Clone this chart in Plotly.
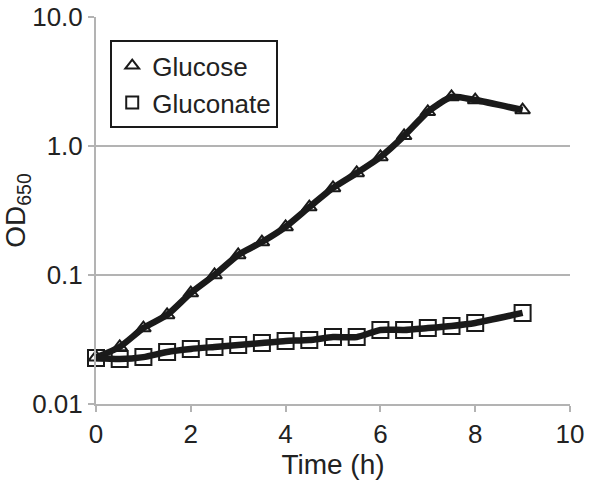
import plotly.graph_objects as go

time_glucose = [0, 0.5, 1, 1.5, 2, 2.5, 3, 3.5, 4, 4.5, 5, 5.5, 6, 6.5, 7, 7.5, 8, 9]
od_glucose = [0.023, 0.0277, 0.0388, 0.049, 0.0725, 0.100, 0.143, 0.180, 0.236, 0.336,
              0.473, 0.618, 0.822, 1.20, 1.84, 2.40, 2.27, 1.90]

time_gluconate = [0, 0.5, 1, 1.5, 2, 2.5, 3, 3.5, 4, 4.5, 5, 5.5, 6, 6.5, 7, 7.5, 8, 9]
od_gluconate = [0.0227, 0.0223, 0.0231, 0.0253, 0.0267, 0.0277, 0.0287, 0.0297, 0.0308, 0.0313,
                0.033, 0.033, 0.0375, 0.0375, 0.0388, 0.0403, 0.0425, 0.0508]

x_ticks = [0, 2, 4, 6, 8, 10]
y_tickvals = [0.01, 0.1, 1, 10]
y_ticktext = ["0.01", "0.1", "1.0", "10.0"]

font_family = "Liberation Sans, Arial, sans-serif"
ink = "#1a1a1a"
text_col = "#222222"
grey = "#b3b3b3"

fig = go.Figure()

fig.add_trace(go.Scatter(
    x=time_glucose, y=od_glucose, mode="markers", name="Glucose",
    marker=dict(symbol="triangle-up-open", size=13, color=ink, line=dict(width=2)),
    cliponaxis=False,
))
fig.add_trace(go.Scatter(
    x=time_gluconate, y=od_gluconate, mode="markers", name="Gluconate",
    marker=dict(symbol="square-open", size=16, color=ink, line=dict(width=2)),
    cliponaxis=False,
))
fig.add_trace(go.Scatter(
    x=time_glucose, y=od_glucose, mode="lines", showlegend=False,
    line=dict(color=ink, width=6.5, shape="spline", smoothing=0.6),
    cliponaxis=False,
))
fig.add_trace(go.Scatter(
    x=time_gluconate, y=od_gluconate, mode="lines", showlegend=False,
    line=dict(color=ink, width=6.5, shape="spline", smoothing=0.6),
    cliponaxis=False,
))

fig.update_layout(
    width=600, height=483,
    margin=dict(l=96, r=30, t=17, b=79),
    paper_bgcolor="white", plot_bgcolor="white",
    font=dict(family=font_family, size=26, color=text_col),
    showlegend=True,
    legend=dict(
        x=0.03, y=0.94, xanchor="left", yanchor="top",
        bgcolor="white", bordercolor=ink, borderwidth=2,
        font=dict(size=26, color=text_col),
        itemsizing="constant", tracegroupgap=0,
    ),
    xaxis=dict(
        range=[0, 10], tickvals=x_ticks, ticktext=[str(v) for v in x_ticks],
        showgrid=False, zeroline=False, automargin=False,
        showline=True, linecolor=grey, linewidth=2,
        ticks="outside", ticklen=6, tickcolor=grey, tickwidth=2,
        tickfont=dict(size=26, color=text_col), ticklabeloverflow="allow",
        title=dict(text="Time (h)", standoff=2, font=dict(size=28, color=text_col)),
    ),
    yaxis=dict(
        type="log", range=[-2, 1], tickvals=y_tickvals, ticktext=y_ticktext,
        showgrid=True, gridcolor=grey, gridwidth=2, zeroline=False, automargin=False,
        showline=True, linecolor=grey, linewidth=2,
        ticks="outside", ticklen=6, tickcolor=grey, tickwidth=2,
        tickfont=dict(size=26, color=text_col), ticklabeloverflow="allow",
        title=dict(text="OD<sub>650</sub>", standoff=3, font=dict(size=28, color=text_col)),
    ),
)

fig.write_html("out.html", config={"displayModeBar": False},
               post_script="document.body.style.margin='0';")
